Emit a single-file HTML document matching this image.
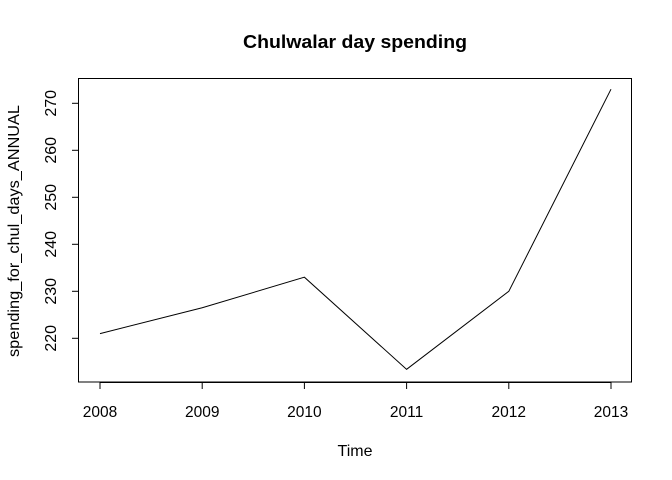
<!DOCTYPE html>
<html><head><meta charset="utf-8"><style>body{margin:0;background:#fff}svg{display:block;font-family:"Liberation Sans",Arial,sans-serif}</style></head>
<body>
<svg id="c" width="672" height="480" viewBox="0 0 672 480">
<text x="355" y="48" text-anchor="middle" font-size="18" font-weight="bold" textLength="224" lengthAdjust="spacingAndGlyphs">Chulwalar day spending</text>
<rect x="78.5" y="78.5" width="553" height="303.5" fill="none" stroke="#000"/>
<text x="355" y="456" text-anchor="middle" font-size="16">Time</text>
<text transform="translate(19,231) rotate(-90)" text-anchor="middle" font-size="16" textLength="252" lengthAdjust="spacingAndGlyphs">spending_for_chul_days_ANNUAL</text>
<g id="ax"></g>
<polyline id="ln" fill="none" stroke="#000" stroke-width="1"/>
</svg>
<script>
const years=[2008,2009,2010,2011,2012,2013];
const values=[221,226.5,233,213.4,230,273];
const yTicks=[220,230,240,250,260,270];
const X=v=>100+(v-2008)*(611-100)/5;
const Y=v=>338.3-(v-220)*(338.3-103.3)/50;
const ns="http://www.w3.org/2000/svg",ax=document.getElementById('ax');
function mk(t,a){const e=document.createElementNS(ns,t);for(const k in a)e.setAttribute(k,a[k]);ax.appendChild(e);return e;}
let l=mk('line',{x1:X(2008),x2:X(2013),y1:382.5,y2:382.5,stroke:'#000'});


years.forEach(y=>{let t=mk('line',{x1:X(y),x2:X(y),y1:382,y2:389,stroke:'#000'});


let s=mk('text',{x:X(y),y:417,'text-anchor':'middle','font-size':'15.5'});s.textContent=y;

});
l=mk('line',{x1:78.5,x2:78.5,y1:Y(220),y2:Y(270),stroke:'#000'});


yTicks.forEach(v=>{let t=mk('line',{x1:72,x2:78.5,y1:Y(v),y2:Y(v),stroke:'#000'});


let s=mk('text',{transform:`translate(56,${Y(v)}) rotate(-90)`,'text-anchor':'middle','font-size':'16'});s.textContent=v;

});
document.getElementById('ln').setAttribute('points',years.map((y,i)=>X(y)+','+Y(values[i])).join(' '));
</script>
</body></html>
